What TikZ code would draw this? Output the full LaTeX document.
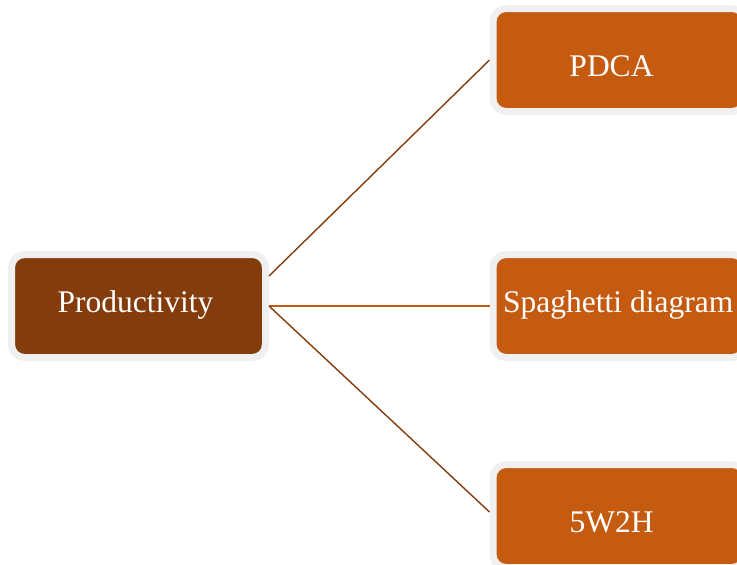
\documentclass[tikz,border=0pt]{standalone}
\usepackage{fontspec}
\setmainfont{Liberation Serif}
\definecolor{darkbrown}{HTML}{843C0C}
\definecolor{rustorange}{HTML}{C55A11}
\definecolor{rimgray}{HTML}{F0F0F0}
\tikzset{
  box/.style={draw=rimgray, line width=7pt, rounded corners=13pt, inner sep=0pt,
    minimum width=#1, minimum height=103pt},
  lbl/.style={text=white, inner sep=0pt, font=\fontsize{31.5}{38}\selectfont},
  link/.style={line width=1.4pt}
}
\begin{document}
\begin{tikzpicture}[x=1pt,y=-1pt]
\useasboundingbox (0,0) rectangle (737,565);
\clip (0,0) rectangle (737,565);
\node[box=254pt, fill=darkbrown] (prod) at (138.5,306) {};
\node[box=252pt, fill=rustorange] (pdca) at (619,60) {};
\node[box=252pt, fill=rustorange] (spag) at (619,306) {};
\node[box=252pt, fill=rustorange] (five) at (619,516) {};
\node[lbl, anchor=base] (prodt) at (135.5,312) {Productivity};
\node[lbl, anchor=base] (pdcat) at (611.5,76) {PDCA};
\node[lbl, anchor=base west] (spagt) at (503,312) {Spaghetti diagram};
\node[lbl, anchor=base] (fivet) at (611.5,532) {5W2H};
\draw[link, darkbrown] ([yshift=30pt]prod.east) -- (pdca.west);
\draw[link, rustorange] (prod.east) -- (spag.west);
\draw[link, darkbrown] (prod.east) -- ([yshift=4pt]five.west);
\end{tikzpicture}
\end{document}
